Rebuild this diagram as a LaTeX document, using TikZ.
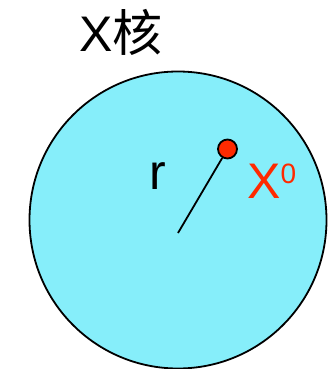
\documentclass[tikz,border=0pt]{standalone}
\usepackage{fontspec}
\setmainfont{Liberation Sans}
\newfontfamily\cjk{Noto Sans CJK SC}
\usepackage{xcolor}
\usetikzlibrary{positioning}

\definecolor{nucleuscyan}{RGB}{134,238,250}
\definecolor{pointred}{RGB}{255,42,0}

\begin{document}
\begin{tikzpicture}[
  x=1pt, y=-1pt,
  label/.style={
    inner sep=0pt,
    anchor=base west,
    font=\fontsize{50}{50}\selectfont
  },
  nucleus/.style={
    draw,
    circle,
    line width=1.8pt,
    fill=nucleuscyan,
    minimum size=297pt,
    inner sep=0pt
  },
  point/.style={
    draw,
    circle,
    line width=1.8pt,
    fill=pointred,
    minimum size=19pt,
    inner sep=0pt
  },
  radius/.style={line width=1.8pt}
]
  \useasboundingbox (0,0) rectangle (331,369);

  \node[nucleus] (core) at (178,220) {};
  \coordinate (centre) at (178,233);
  \node[point] (x0) at (227.5,149) {};

  \node[label] (title) at (79,52) {X{\cjk 核}};
  \node[label] (rlabel) at (149,189) {r};
  \node[label, text=pointred] (x0label) at (247,198)
    {X\raisebox{15pt}{\fontsize{28}{28}\selectfont 0}};

  \draw[radius] (centre) -- (x0);
\end{tikzpicture}
\end{document}
